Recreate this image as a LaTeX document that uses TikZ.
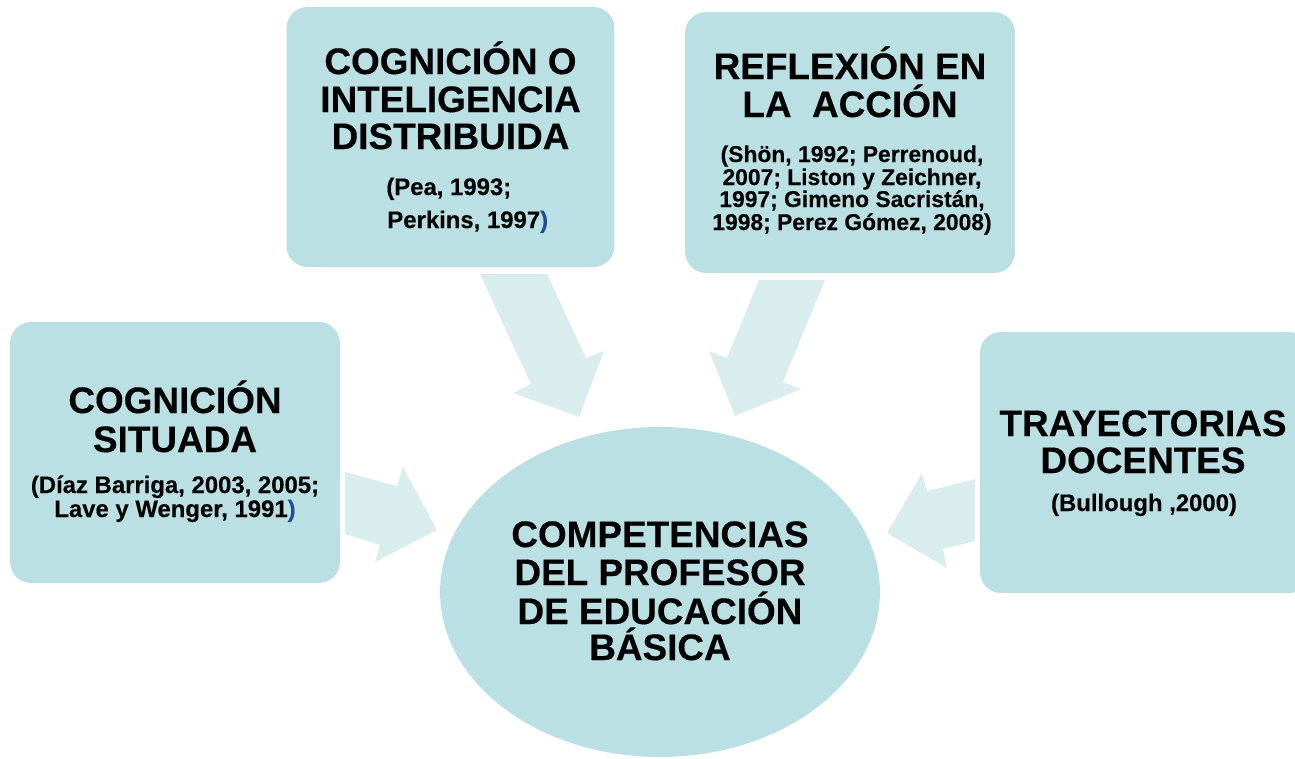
\documentclass[tikz,border=0pt]{standalone}
\usepackage{fontspec}
\usetikzlibrary{shapes.geometric}
\setmainfont{Liberation Sans}[BoldFeatures={FakeBold=0.3}]
\definecolor{boxfill}{RGB}{186,224,227}
\definecolor{arrowfill}{RGB}{218,237,238}
\definecolor{parblue}{RGB}{31,78,150}
\tikzset{
  boxnode/.style={fill=boxfill, draw=none, rounded corners=0.42cm, inner sep=0pt},
  hd/.style={anchor=base, inner sep=0pt, font=\fontsize{21}{23}\selectfont\bfseries},
  ct/.style={anchor=base, inner sep=0pt, font=\fontsize{13.6}{14}\selectfont\bfseries},
  cts/.style={anchor=base, inner sep=0pt, font=\fontsize{13}{14}\selectfont\bfseries},
  blockarrow/.style={fill=arrowfill, draw=none}
}
\begin{document}
\begin{tikzpicture}[x=0.02cm,y=-0.02cm]
\useasboundingbox (0,0) rectangle (1295,758);
\clip (0,0) rectangle (1295,758);
% block arrows
\fill[blockarrow] (480,274) -- (547,274) -- (586,358) -- (604,351) -- (579,417) -- (513,393) -- (531,384) -- cycle;
\fill[blockarrow] (759,280) -- (825,280) -- (783,382) -- (801,389) -- (735,416) -- (709,351) -- (727,358) -- cycle;
\fill[blockarrow] (345,472) -- (397,486) -- (403,467) -- (437,530) -- (375,562) -- (380,545) -- (345,534) -- cycle;
\fill[blockarrow] (975,479) -- (927,491) -- (922,473) -- (887,533) -- (947,568) -- (943,549) -- (975,541) -- cycle;
% boxes
\node[boxnode, minimum width=6.56cm, minimum height=5.2cm] (b1) at (450.5,137) {};
\node[boxnode, minimum width=6.6cm, minimum height=5.22cm] (b2) at (850,142.5) {};
\node[boxnode, minimum width=6.6cm, minimum height=5.22cm] (b3) at (175,452.5) {};
\node[boxnode, minimum width=6.6cm, minimum height=5.22cm] (b4) at (1145,462.5) {};
\node[ellipse, fill=boxfill, minimum width=8.8cm, minimum height=6.6cm, inner sep=0pt] (c) at (660,592) {};
% box 1 text
\node[hd] (t1a) at (450.5,74) {COGNICIÓN O};
\node[hd] (t1b) at (450.5,112) {INTELIGENCIA};
\node[hd] (t1c) at (450.5,149) {DISTRIBUIDA};
\node[ct, anchor=base west] (t1d) at (386,195) {(Pea, 1993;};
\node[ct, anchor=base west] (t1e) at (387,228) {Perkins, 1997\textcolor{parblue}{)}};
% box 2 text
\node[hd] (t2a) at (850,79) {REFLEXIÓN EN};
\node[hd] (t2b) at (850,117) {LA\ \ ACCIÓN};
\node[cts] (t2c) at (852,162) {(Shön, 1992; Perrenoud,};
\node[cts] (t2d) at (852,185) {2007; Liston y Zeichner,};
\node[cts] (t2e) at (852,207) {1997; Gimeno Sacristán,};
\node[cts] (t2f) at (852,230) {1998; Perez Gómez, 2008)};
% box 3 text
\node[hd] (t3a) at (175,413) {COGNICIÓN};
\node[hd] (t3b) at (175,452) {SITUADA};
\node[ct] (t3c) at (175,493) {(Díaz Barriga, 2003, 2005;};
\node[ct] (t3d) at (175,517) {Lave y Wenger, 1991\textcolor{parblue}{)}};
% box 4 text
\node[hd] (t4a) at (1143,436) {TRAYECTORIAS};
\node[hd] (t4b) at (1143,473) {DOCENTES};
\node[ct] (t4c) at (1144,511) {(Bullough ,2000)};
% ellipse text
\node[hd] (t5a) at (660,547) {COMPETENCIAS};
\node[hd] (t5b) at (660,585) {DEL PROFESOR};
\node[hd] (t5c) at (660,624) {DE EDUCACIÓN};
\node[hd] (t5d) at (660,660) {BÁSICA};
\end{tikzpicture}
\end{document}
